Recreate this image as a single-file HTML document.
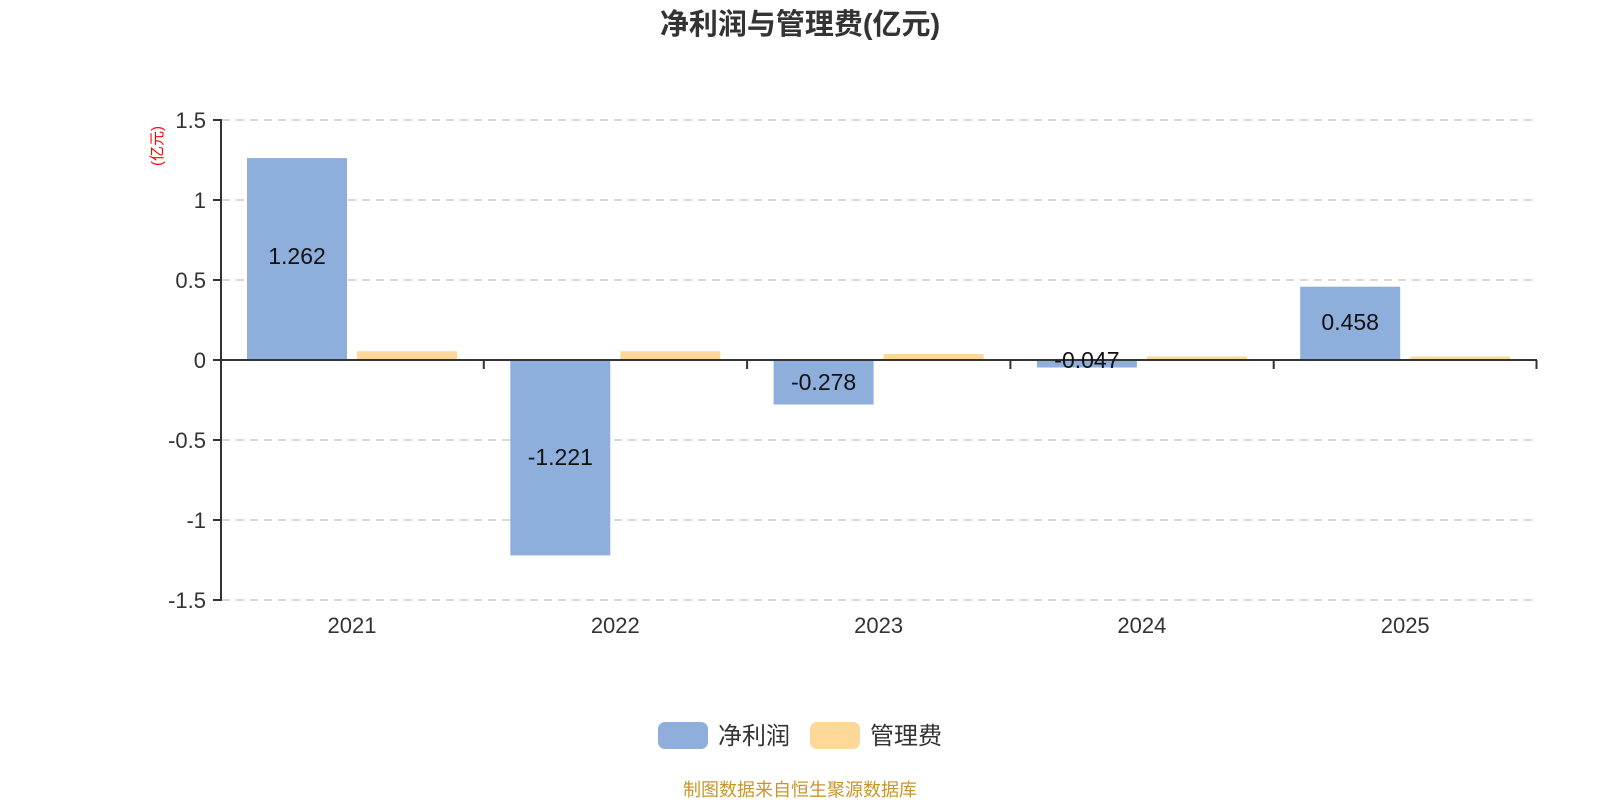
<!DOCTYPE html>
<html><head><meta charset="utf-8"><style>body{margin:0;background:#fff}svg{display:block}</style></head><body>
<svg width="1600" height="800" xmlns="http://www.w3.org/2000/svg" font-family="'Liberation Sans','Noto Sans CJK SC',sans-serif">
<text x="800" y="34" text-anchor="middle" font-size="29" font-weight="bold" fill="#333">净利润与管理费(亿元)</text>
<g stroke="#ccc" stroke-width="1.5" stroke-dasharray="8,6">
<line x1="222" y1="120" x2="1537" y2="120"/><line x1="222" y1="200" x2="1537" y2="200"/><line x1="222" y1="280" x2="1537" y2="280"/><line x1="222" y1="440" x2="1537" y2="440"/><line x1="222" y1="520" x2="1537" y2="520"/><line x1="222" y1="600" x2="1537" y2="600"/>
</g>
<text transform="translate(162,146) rotate(-90)" text-anchor="middle" font-size="15" fill="#f00">(亿元)</text>
<g font-size="22" fill="#333" text-anchor="end">
<text x="206" y="128">1.5</text><text x="206" y="208">1</text><text x="206" y="288">0.5</text><text x="206" y="368">0</text><text x="206" y="448">-0.5</text><text x="206" y="528">-1</text><text x="206" y="608">-1.5</text>
</g>
<g fill="#8eaedb">
<rect x="247" y="158.1" width="100" height="201.9"/>
<rect x="510.3" y="360" width="100" height="195.4"/>
<rect x="773.6" y="360" width="100" height="44.5"/>
<rect x="1036.9" y="360" width="100" height="7.5"/>
<rect x="1300.2" y="286.7" width="100" height="73.3"/>
</g>
<g fill="#fdd899">
<rect x="357" y="351.2" width="100" height="8.8"/>
<rect x="620.3" y="351.2" width="100" height="8.8"/>
<rect x="883.6" y="354" width="100" height="6"/>
<rect x="1146.9" y="356.5" width="100" height="3.5"/>
<rect x="1410.2" y="356.5" width="100" height="3.5"/>
</g>
<g stroke="#333" stroke-width="2" fill="none">
<line x1="221" y1="119" x2="221" y2="601"/>
<line x1="213" y1="120" x2="221" y2="120"/><line x1="213" y1="200" x2="221" y2="200"/><line x1="213" y1="280" x2="221" y2="280"/><line x1="213" y1="360" x2="221" y2="360"/><line x1="213" y1="440" x2="221" y2="440"/><line x1="213" y1="520" x2="221" y2="520"/><line x1="213" y1="600" x2="221" y2="600"/>
<line x1="221" y1="360" x2="1537" y2="360"/>
<line x1="483.8" y1="360" x2="483.8" y2="369"/><line x1="747.1" y1="360" x2="747.1" y2="369"/><line x1="1010.4" y1="360" x2="1010.4" y2="369"/><line x1="1273.7" y1="360" x2="1273.7" y2="369"/><line x1="1536.5" y1="360" x2="1536.5" y2="369"/>
</g>
<g font-size="23" fill="#111" text-anchor="middle">
<text x="297" y="264">1.262</text>
<text x="560.3" y="465">-1.221</text>
<text x="823.6" y="390">-0.278</text>
<text x="1086.9" y="368">-0.047</text>
<text x="1350.2" y="330">0.458</text>
</g>
<g font-size="22" fill="#333" text-anchor="middle">
<text x="352" y="633">2021</text><text x="615.3" y="633">2022</text><text x="878.6" y="633">2023</text><text x="1141.9" y="633">2024</text><text x="1405.2" y="633">2025</text>
</g>
<rect x="658" y="722" width="50" height="27" rx="7" fill="#8eaedb"/>
<text x="718" y="744" font-size="24" fill="#333">净利润</text>
<rect x="810" y="722" width="50" height="27" rx="7" fill="#fdd899"/>
<text x="870" y="744" font-size="24" fill="#333">管理费</text>
<text x="800" y="796" text-anchor="middle" font-size="18" fill="#c8962a">制图数据来自恒生聚源数据库</text>
</svg>
</body></html>
